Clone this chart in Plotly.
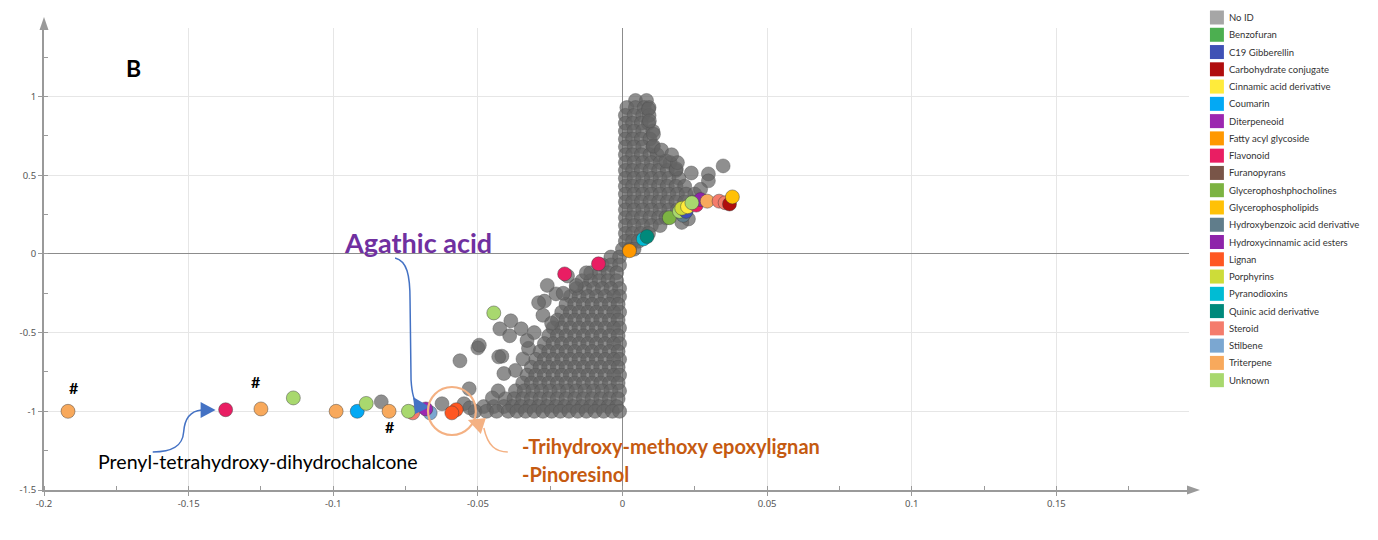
import plotly.graph_objects as go

# ---------------- DATA ----------------
classes = ["No ID", "Benzofuran", "C19 Gibberellin", "Carbohydrate conjugate",
           "Cinnamic acid derivative", "Coumarin", "Diterpeneoid", "Fatty acyl glycoside",
           "Flavonoid", "Furanopyrans", "Glycerophoshphocholines", "Glycerophospholipids",
           "Hydroxybenzoic acid derivative", "Hydroxycinnamic acid esters", "Lignan",
           "Porphyrins", "Pyranodioxins", "Quinic acid derivative", "Steroid", "Stilbene",
           "Triterpene", "Unknown"]
class_colors = ["#a6a6a6", "#4caf50", "#3f51b5", "#b00d0d", "#ffeb3b", "#03a9f4",
                "#9c27b0", "#ff9800", "#e91e63", "#795548", "#7cb342", "#ffc107",
                "#607d8b", "#8e24aa", "#ff5722", "#cddc39", "#00bcd4", "#00897b",
                "#f47c6c", "#7ba7d1", "#f8a95c", "#a8d86e"]

# Unidentified features ("No ID"): rows of p[1] values at a given p(corr)[1]
noid_rows = [
    (0.975, [0.0045, 0.0083]),
    (0.93, [0.0015, 0.0045, 0.0075, 0.0092]),
    (0.88, [0.001, 0.004, 0.007, 0.0092]),
    (0.83, [0.001, 0.0035, 0.0065, 0.009]),
    (0.78, [0.001, 0.004, 0.007, 0.0105]),
    (0.73, [0.001, 0.0035, 0.0065, 0.0095]),
    (0.68, [0.001, 0.004, 0.007, 0.0105]),
    (0.63, [0.001, 0.0035, 0.0065, 0.0095, 0.012]),
    (0.58, [0.001, 0.004, 0.007, 0.01, 0.013, 0.0165]),
    (0.53, [0.001, 0.0035, 0.0065, 0.0095, 0.0125, 0.0155, 0.0185]),
    (0.48, [0.001, 0.004, 0.007, 0.01, 0.013, 0.016, 0.0195]),
    (0.43, [0.001, 0.0035, 0.0065, 0.0095, 0.0125, 0.0155, 0.0185, 0.0215]),
    (0.38, [0.001, 0.004, 0.007, 0.01, 0.013, 0.016, 0.019, 0.022, 0.025]),
    (0.33, [0.001, 0.0035, 0.0065, 0.0095, 0.0125, 0.0155, 0.0185, 0.0215, 0.0245]),
    (0.28, [0.001, 0.004, 0.007, 0.01, 0.013, 0.016, 0.019]),
    (0.23, [0.001, 0.0035, 0.0065, 0.0095, 0.0125, 0.015]),
    (0.18, [0.001, 0.004, 0.007, 0.01, 0.013]),
    (0.13, [0.001, 0.0035, 0.0065, 0.009]),
    (0.08, [0.001, 0.0035, 0.0055]),
    (0.03, [0.0, 0.0025, 0.004]),
    (-0.02, [-0.004, -0.001]),
    (-0.07, [-0.007, -0.004, -0.001]),
    (-0.12, [-0.011, -0.008, -0.005, -0.002]),
    (-0.17, [-0.014, -0.011, -0.008, -0.005, -0.002]),
    (-0.22, [-0.016, -0.013, -0.010, -0.007, -0.004, -0.001]),
    (-0.27, [-0.018, -0.015, -0.012, -0.009, -0.006, -0.003, -0.001]),
    (-0.32, [-0.0195, -0.0165, -0.0135, -0.0105, -0.0075, -0.0045, -0.0015]),
    (-0.37, [-0.021, -0.018, -0.015, -0.012, -0.009, -0.006, -0.003, -0.001]),
    (-0.42, [-0.0225, -0.0195, -0.0165, -0.0135, -0.0105, -0.0075, -0.0045, -0.0015]),
    (-0.47, [-0.024, -0.021, -0.018, -0.015, -0.012, -0.009, -0.006, -0.003, -0.001]),
    (-0.52, [-0.0255, -0.0225, -0.0195, -0.0165, -0.0135, -0.0105, -0.0075, -0.0045, -0.0015]),
    (-0.57, [-0.027, -0.024, -0.021, -0.018, -0.015, -0.012, -0.009, -0.006, -0.003, -0.001]),
    (-0.62, [-0.0285, -0.0255, -0.0225, -0.0195, -0.0165, -0.0135, -0.0105, -0.0075, -0.0045, -0.0015]),
    (-0.67, [-0.030, -0.027, -0.024, -0.021, -0.018, -0.015, -0.012, -0.009, -0.006, -0.003, -0.001]),
    (-0.72, [-0.0315, -0.0285, -0.0255, -0.0225, -0.0195, -0.0165, -0.0135, -0.0105, -0.0075, -0.0045, -0.0015]),
    (-0.77, [-0.033, -0.030, -0.027, -0.024, -0.021, -0.018, -0.015, -0.012, -0.009, -0.006, -0.003, -0.001]),
    (-0.82, [-0.0345, -0.0315, -0.0285, -0.0255, -0.0225, -0.0195, -0.0165, -0.0135, -0.0105, -0.0075, -0.0045, -0.0015]),
    (-0.87, [-0.037, -0.034, -0.031, -0.028, -0.025, -0.022, -0.019, -0.016, -0.013, -0.010, -0.007, -0.004, -0.001]),
    (-0.92, [-0.0405, -0.0375, -0.0345, -0.0315, -0.0285, -0.0255, -0.0225, -0.0195, -0.0165, -0.0135, -0.0105, -0.0075, -0.0045, -0.0015]),
    (-0.97, [-0.048, -0.0445, -0.041, -0.038, -0.035, -0.032, -0.029, -0.026, -0.023, -0.02, -0.017, -0.014, -0.011, -0.008, -0.005, -0.002]),
    (-1.0, [-0.051, -0.047, -0.0435, -0.0395, -0.0365, -0.0335, -0.0305, -0.0275, -0.0245, -0.0215, -0.0185, -0.0155, -0.0125, -0.0095, -0.0065, -0.0035, -0.001]),
]
# scattered unidentified features
noid_scatter_x = [-0.0834, -0.0624, -0.0548, -0.0528, -0.053, -0.0562, -0.05, -0.0495,
                  -0.0386, -0.0424, -0.039, -0.035, -0.0417, -0.0344, -0.0428, -0.027,
                  -0.0275, -0.023, -0.0205, -0.016, -0.0125, -0.029, -0.0245, -0.0325,
                  -0.037, -0.041, -0.043, -0.045, -0.026, -0.019, -0.033, -0.0305,
                  0.009, 0.0093, 0.0107, 0.0107, 0.015, 0.0186, 0.0238, 0.0348,
                  0.0297, 0.0297, 0.027, 0.0228, 0.019, 0.0205, 0.0135, 0.017]
noid_scatter_y = [-0.94, -0.952, -0.952, -0.978, -0.857, -0.679, -0.597, -0.58,
                  -0.425, -0.476, -0.52, -0.476, -0.65, -0.667, -0.654, -0.30,
                  -0.39, -0.254, -0.25, -0.2, -0.12, -0.31, -0.44, -0.6,
                  -0.74, -0.76, -0.87, -0.915, -0.2, -0.14, -0.55, -0.5,
                  0.92, 0.845, 0.76, 0.686, 0.59, 0.54, 0.514, 0.559,
                  0.508, 0.464, 0.41, 0.222, 0.58, 0.2, 0.66, 0.63]

# Identified features: class, p[1], p(corr)[1]
id_class = ["Triterpene", "Flavonoid", "Triterpene", "Unknown", "Triterpene", "Coumarin",
            "Unknown", "Triterpene", "Steroid", "Unknown", "Stilbene", "Diterpeneoid",
            "Lignan", "Lignan", "Unknown", "Flavonoid", "Flavonoid",
            "Fatty acyl glycoside", "Pyranodioxins", "Quinic acid derivative",
            "Glycerophoshphocholines", "Hydroxybenzoic acid derivative", "Unknown",
            "C19 Gibberellin", "Porphyrins", "Cinnamic acid derivative", "Flavonoid",
            "Hydroxycinnamic acid esters", "Unknown", "Triterpene", "Steroid", "Steroid",
            "Carbohydrate conjugate", "Glycerophospholipids"]
id_x = [-0.1917, -0.1372, -0.125, -0.1138, -0.099, -0.0917,
        -0.0886, -0.0807, -0.0725, -0.074, -0.0665, -0.068,
        -0.0575, -0.059, -0.0445, -0.02, -0.0083,
        0.0024, 0.0072, 0.0085,
        0.0162, 0.021, 0.0197,
        0.022, 0.0205, 0.0225, 0.0255,
        0.027, 0.024, 0.0293, 0.0334, 0.0355,
        0.037, 0.038]
id_y = [-1.0, -0.99, -0.985, -0.915, -1.0, -1.0,
        -0.95, -1.0, -1.01, -1.0, -1.01, -0.985,
        -0.99, -1.01, -0.375, -0.127, -0.063,
        0.02, 0.095, 0.11,
        0.23, 0.245, 0.27,
        0.27, 0.29, 0.3, 0.31,
        0.345, 0.325, 0.335, 0.335, 0.325,
        0.317, 0.362]

x_tick_vals = [-0.2, -0.15, -0.1, -0.05, 0, 0.05, 0.1, 0.15]
x_tick_text = ["-0.2", "-0.15", "-0.1", "-0.05", "0", "0.05", "0.1", "0.15"]
y_tick_vals = [-1.5, -1, -0.5, 0, 0.5, 1]
y_tick_text = ["-1.5", "-1", "-0.5", "0", "0.5", "1"]

# ---------------- LAYOUT GEOMETRY (reference-pixel frame) ----------------
OFF = 8                      # page body margin
W, H = 1378 - OFF, 540 - OFF
PL, PR, PT, PB = 41, 1189, 28, 490   # plot area in page pixels
ML, MR, MT, MB = PL - OFF, W - (PR - OFF), PT - OFF, H - (PB - OFF)
PX_PER_X = 2900.0
PX_PER_Y = 157.4
X_MIN, Y_MIN = -0.2, -1.5
X_MAX = X_MIN + (PR - PL) / PX_PER_X
Y_MAX = Y_MIN + (PB - PT) / PX_PER_Y


def dx(px):
    return X_MIN + (px - PL) / PX_PER_X


def dy(py):
    return Y_MIN + (PB - py) / PX_PER_Y


def paper_x(px):
    return (px - PL) / (PR - PL)


def paper_y(py):
    return (PB - py) / (PB - PT)


def path_data(points, closed=False, curve=False):
    if curve:
        s = "M%.5f,%.5f" % (dx(points[0][0]), dy(points[0][1]))
        for i in range(1, len(points), 3):
            s += " C" + " ".join("%.5f,%.5f" % (dx(p[0]), dy(p[1])) for p in points[i:i + 3])
    else:
        s = "M" + " L".join("%.5f,%.5f" % (dx(p[0]), dy(p[1])) for p in points)
    if closed:
        s += " Z"
    return s


def path_paper(points):
    return "M" + " L".join("%.5f,%.5f" % (paper_x(p[0]), paper_y(p[1])) for p in points) + " Z"


# ---------------- FIGURE ----------------
fig = go.Figure()

gx, gy = [], []
for yv, xs in noid_rows:
    for xv in xs:
        gx.append(xv)
        gy.append(yv)
gx += noid_scatter_x
gy += noid_scatter_y

fig.add_trace(go.Scatter(
    x=gx, y=gy, mode="markers", name="No ID", showlegend=False,
    marker=dict(size=14, color="rgba(100,100,100,0.72)",
                line=dict(color="rgba(80,80,80,0.5)", width=0.8)),
    hoverinfo="skip"))

color_of = dict(zip(classes, class_colors))
for c, xv, yv in zip(id_class, id_x, id_y):
    fig.add_trace(go.Scatter(
        x=[xv], y=[yv], mode="markers", name=c, showlegend=False,
        marker=dict(size=14, color=color_of[c],
                    line=dict(color="rgba(60,60,60,0.45)", width=1))))

shapes = []
annotations = []

# axis arrowheads
shapes.append(dict(type="path", xref="paper", yref="paper",
                   path=path_paper([(1187, 485.5), (1187, 494.5), (1200, 490)]),
                   fillcolor="#9a9a9a", line=dict(width=0)))
shapes.append(dict(type="path", xref="paper", yref="paper",
                   path=path_paper([(36.5, 30), (45.5, 30), (41, 17)]),
                   fillcolor="#9a9a9a", line=dict(width=0)))

# blue curved arrows
blue = "#4472c4"
shapes.append(dict(type="path", xref="x", yref="y", line=dict(color=blue, width=1.5),
                   path=path_data([(393, 258), (405, 261), (408, 275), (408, 300),
                                   (408.5, 340), (409, 360), (409, 380),
                                   (410, 395), (412, 402), (416, 405)], curve=True)))
shapes.append(dict(type="path", xref="x", yref="y", fillcolor=blue, line=dict(width=0),
                   path=path_data([(411, 397), (413, 414), (428, 407)], closed=True)))
shapes.append(dict(type="path", xref="x", yref="y", line=dict(color=blue, width=1.5),
                   path=path_data([(150, 452), (170, 452), (180, 446), (181, 432),
                                   (182, 418), (188, 411), (199, 410)], curve=True)))
shapes.append(dict(type="path", xref="x", yref="y", fillcolor=blue, line=dict(width=0),
                   path=path_data([(198, 402), (198, 418), (213, 410)], closed=True)))

# orange circle and arrow
orange_l = "#f4b183"
shapes.append(dict(type="circle", xref="x", yref="y",
                   x0=dx(426), x1=dx(474), y0=dy(435), y1=dy(387),
                   line=dict(color=orange_l, width=2.2)))
shapes.append(dict(type="path", xref="x", yref="y", line=dict(color=orange_l, width=1.5),
                   path=path_data([(506, 452), (494, 452), (486, 446), (482, 428)], curve=True)))
shapes.append(dict(type="path", xref="x", yref="y", fillcolor=orange_l, line=dict(width=0),
                   path=path_data([(466, 420), (484, 418), (479, 434)], closed=True)))

# manual legend
for i, (c, col) in enumerate(zip(classes, class_colors)):
    cy = 17.5 + i * 17.27
    shapes.append(dict(type="rect", xref="paper", yref="paper",
                       x0=paper_x(1210), x1=paper_x(1224),
                       y0=paper_y(cy + 7), y1=paper_y(cy - 7),
                       fillcolor=col, line=dict(width=0)))
    annotations.append(dict(xref="paper", yref="paper", x=paper_x(1227), y=paper_y(cy),
                            text=c, showarrow=False, xanchor="left", yanchor="middle",
                            font=dict(family="Lato", size=9.5, color="#333333")))


def txt(px, py, text, size, color="black", bold=False, family="Lato",
        xanchor="center", angle=0):
    t = "<b>%s</b>" % text if bold else text
    annotations.append(dict(xref="x", yref="y", x=dx(px), y=dy(py), text=t,
                            showarrow=False, xanchor=xanchor, yanchor="middle",
                            textangle=angle,
                            font=dict(family=family, size=size, color=color)))


txt(131, 68, "B", 23, bold=True)
txt(416, 242, "Agathic acid", 27, color="#7030a0", bold=True)
txt(93, 461, "Prenyl-tetrahydroxy-dihydrochalcone", 19.6, xanchor="left")
txt(518, 446, "-Trihydroxy-methoxy epoxylignan", 20, color="#c55a11", bold=True, xanchor="left")
txt(518, 474, "-Pinoresinol", 20, color="#c55a11", bold=True, xanchor="left")
txt(71, 387, "#", 16, bold=True)
txt(254, 381, "#", 16, bold=True)
txt(388, 426, "#", 16, bold=True)
txt(12, 253, "p(corr)[1]", 10, color="#444444", family="Noto Sans", angle=-90)
txt(621, 519, "p[1]", 10, color="#444444", family="Noto Sans")
txt(605, 531, "R2X[1] = 0.245", 10.5, color="#333333", family="Liberation Mono")
txt(1197, 533, "SIMCA 16.1 - 10/6/2020 11:28:40 AM (UTC+11:00)", 6.5,
    color="#aaaaaa", family="Noto Sans", xanchor="left")

axis_common = dict(showgrid=True, gridcolor="#e6e6e6", gridwidth=1,
                   zeroline=True, zerolinecolor="#8c8c8c", zerolinewidth=1,
                   showline=True, linecolor="#9a9a9a", linewidth=2,
                   ticks="outside", ticklen=4, tickcolor="#9a9a9a", tickwidth=1,
                   tickfont=dict(family="Noto Sans", size=9.5, color="#555555"),
                   fixedrange=True)

fig.update_layout(
    width=W, height=H,
    margin=dict(l=ML, r=MR, t=MT, b=MB, pad=0),
    paper_bgcolor="white", plot_bgcolor="white",
    showlegend=False,
    xaxis=dict(range=[X_MIN, X_MAX], tickmode="array", tickvals=x_tick_vals,
               ticktext=x_tick_text,
               minor=dict(tick0=-0.2, dtick=0.025, ticks="inside", ticklen=4,
                          tickcolor="#9a9a9a", showgrid=False),
               **axis_common),
    yaxis=dict(range=[Y_MIN, Y_MAX], tickmode="array", tickvals=y_tick_vals,
               ticktext=y_tick_text,
               minor=dict(tick0=-1.5, dtick=0.25, ticks="inside", ticklen=4,
                          tickcolor="#9a9a9a", showgrid=False),
               **axis_common),
    shapes=shapes,
    annotations=annotations,
)

fig.write_html("out.html")
